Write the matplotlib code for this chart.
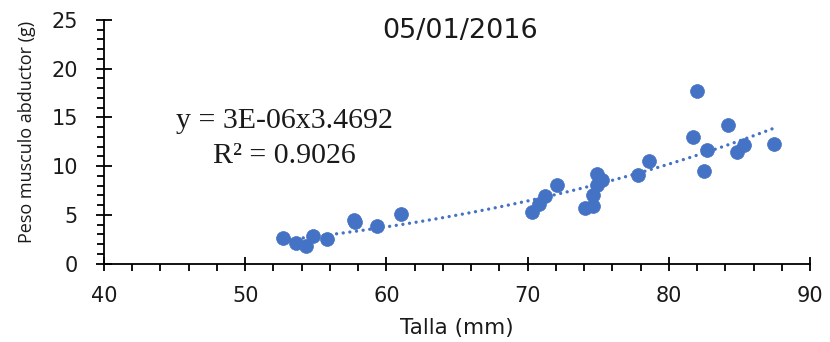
import numpy as np
import matplotlib
matplotlib.use('Agg')
import matplotlib.pyplot as plt
from matplotlib.ticker import MultipleLocator

# ── Data ──────────────────────────────────────────────────────────────────────
TALLA = [52.7, 53.6, 54.3, 54.8, 55.8, 57.7, 57.8, 59.3, 61.0,
         70.3, 70.8, 71.2, 72.1, 74.1, 74.6, 74.6, 74.9, 74.9, 75.3,
         77.8, 78.6, 81.7, 82.0, 82.5, 82.7, 84.2, 84.8, 85.3, 87.45]
PESO = [2.6, 2.1, 1.8, 2.8, 2.5, 4.5, 4.3, 3.9, 5.1,
        5.3, 6.1, 6.9, 8.1, 5.7, 5.9, 7.0, 9.2, 8.1, 8.6,
        9.1, 10.5, 12.95, 17.7, 9.5, 11.7, 14.2, 11.4, 12.2, 12.3]

# power trendline y = a * x^b
TREND_COEF = 2.55e-6
TREND_EXP = 3.4692
TREND_R2 = 0.9026

TITLE = '05/01/2016'
BLUE = '#4472C4'
TEXT = '#1a1a1a'

fig = plt.figure(figsize=(8.3, 3.42), dpi=100)
fig.patch.set_facecolor('white')
W, H = 830, 342
ax = fig.add_axes([104 / W, 1 - 263.5 / H, (810 - 104) / W, (263.5 - 20) / H])

x = np.array(TALLA)
y = np.array(PESO)
ax.plot(x, y, 'o', color=BLUE, ms=10, mec=BLUE, mew=0.5, zorder=3, clip_on=False)

xt = np.linspace(x.min(), x.max(), 200)
ax.plot(xt, TREND_COEF * xt ** TREND_EXP, color=BLUE, lw=2.4,
        dashes=(0.01, 2.0), dash_capstyle='round', zorder=2)

ax.set_xlim(40, 90)
ax.set_ylim(0, 25)
ax.xaxis.set_major_locator(MultipleLocator(10))
ax.xaxis.set_minor_locator(MultipleLocator(2))
ax.yaxis.set_major_locator(MultipleLocator(5))
ax.yaxis.set_minor_locator(MultipleLocator(1))

for s in ('top', 'right'):
    ax.spines[s].set_visible(False)
for s in ('left', 'bottom'):
    ax.spines[s].set_linewidth(1.3)
    ax.spines[s].set_color('black')

ax.tick_params(axis='x', which='major', direction='inout', length=10, width=1.3,
               pad=11, labelsize=15, labelcolor=TEXT)
ax.tick_params(axis='y', which='major', direction='inout', length=11.5, width=1.3,
               pad=13, labelsize=15, labelcolor=TEXT)
ax.tick_params(which='minor', direction='out', length=5, width=1.3)

ax.set_xlabel('Talla (mm)', fontsize=15.5, color=TEXT, labelpad=9)
fig.text(27 / W, 1 - 132 / H, 'Peso musculo abductor (g)', rotation=90,
         ha='center', va='center', fontsize=13, family='Open Sans', color=TEXT)

fig.text(460 / W, 1 - 38 / H, TITLE, ha='center', va='baseline',
         fontsize=19.5, color=TEXT)

fig.text(284 / W, 1 - 128 / H, 'y = 3E-06x3.4692', ha='center', va='baseline',
         fontsize=21.5, family='Liberation Serif', color=TEXT)
fig.text(284 / W, 1 - 163 / H, f'R² = {TREND_R2:.4f}', ha='center', va='baseline',
         fontsize=21.5, family='Liberation Serif', color=TEXT)

fig.savefig('out.png', dpi=100)
